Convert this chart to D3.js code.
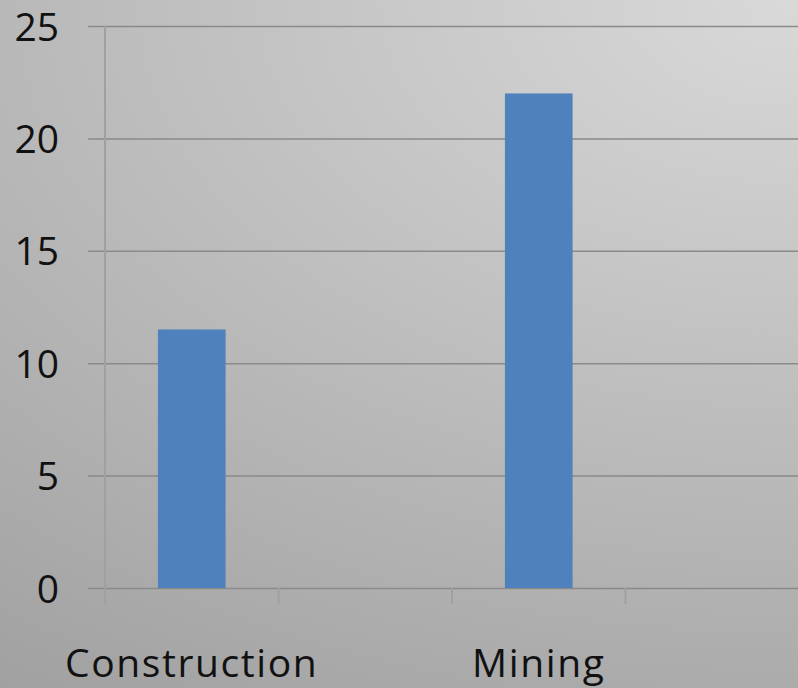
<!DOCTYPE html>
<html>
<head>
<meta charset="utf-8">
<script src="https://cdn.jsdelivr.net/npm/d3@7"></script>
<style>
  html, body { margin: 0; padding: 0; background: #bdbdbd; }
  svg { display: block; }
</style>
</head>
<body>
<svg id="chart" width="798" height="688"></svg>
<script>
// Category labels along the x axis (every other label is left blank, as shown)
const categories = ["Construction", "", "Mining", ""];
// Bar values per category (null = no bar)
const values = [11.5, null, 22, null];
// Y axis tick values
const yTicks = [0, 5, 10, 15, 20, 25];

const W = 798, H = 688;
const margin = { left: 105, right: -1, top: 26, bottom: 100 };

const svg = d3.select("#chart");

// Soft grey radial background, brightest in the upper-right corner
const defs = svg.append("defs");
const grad = defs.append("radialGradient")
  .attr("id", "bg")
  .attr("gradientUnits", "userSpaceOnUse")
  .attr("cx", W).attr("cy", 0).attr("fx", W).attr("fy", 0).attr("r", 900)
  .attr("gradientTransform", `translate(${W},0) scale(1.62,1) translate(${-W},0)`);
grad.append("stop").attr("offset", 0).attr("stop-color", "#d9d9d9");
grad.append("stop").attr("offset", 1).attr("stop-color", "#9d9d9d");

svg.append("rect").attr("width", W).attr("height", H).attr("fill", "url(#bg)");

const x = d3.scaleBand()
  .domain(d3.range(categories.length))
  .range([margin.left, W - margin.right])
  .paddingInner(0).paddingOuter(0);

const y = d3.scaleLinear()
  .domain([0, 25])
  .range([H - margin.bottom, margin.top]);

const font = "'Open Sans', Lato, sans-serif";

// Horizontal gridlines (extend left of the axis as tick marks)
const yAxis = d3.axisLeft(y)
  .tickValues(yTicks)
  .tickSize(-(W - margin.left) - 17)
  .tickPadding(0)
  .tickFormat(d3.format("d"));

const gy = svg.append("g")
  .attr("transform", `translate(${margin.left - 17},0)`)
  .call(yAxis);
gy.select(".domain").remove();
gy.selectAll(".tick line")
  .attr("x1", 0)
  .attr("x2", W - margin.left + 17)
  .attr("stroke", "#8a8a8a")
  .attr("stroke-width", 1.5);
gy.selectAll(".tick text")
  .attr("x", -29)
  .attr("dy", "0.36em")
  .attr("text-anchor", "end")
  .attr("fill", "#111")
  .style("font-family", font)
  .style("font-size", "39px");

// Vertical axis line
svg.append("line")
  .attr("x1", margin.left).attr("x2", margin.left)
  .attr("y1", y(25)).attr("y2", y(0) + 16)
  .attr("stroke", "#a0a0a0")
  .attr("stroke-width", 2);

// Category boundary ticks below the baseline
const bounds = d3.range(categories.length + 1).map(i =>
  i < categories.length ? x(i) : x(categories.length - 1) + x.bandwidth());
svg.append("g").selectAll("line")
  .data(bounds.slice(1))
  .join("line")
  .attr("x1", d => d).attr("x2", d => d)
  .attr("y1", y(0)).attr("y2", y(0) + 16)
  .attr("stroke", "#a0a0a0")
  .attr("stroke-width", 2);

// Bars
const barW = x.bandwidth() * 0.39;
svg.append("g").selectAll("rect")
  .data(values.map((v, i) => ({ v, i })).filter(d => d.v != null))
  .join("rect")
  .attr("x", d => x(d.i) + (x.bandwidth() - barW) / 2)
  .attr("width", barW)
  .attr("y", d => y(d.v))
  .attr("height", d => y(0) - y(d.v))
  .attr("fill", "#4f81bd");

// Category labels
svg.append("g").selectAll("text")
  .data(categories.map((c, i) => ({ c, i })).filter(d => d.c !== ""))
  .join("text")
  .attr("x", d => x(d.i) + x.bandwidth() / 2)
  .attr("y", 677)
  .attr("text-anchor", "middle")
  .attr("fill", "#111")
  .style("font-family", font)
  .style("font-size", "39px")
  .style("letter-spacing", "1.6px")
  .text(d => d.c);
</script>
</body>
</html>
